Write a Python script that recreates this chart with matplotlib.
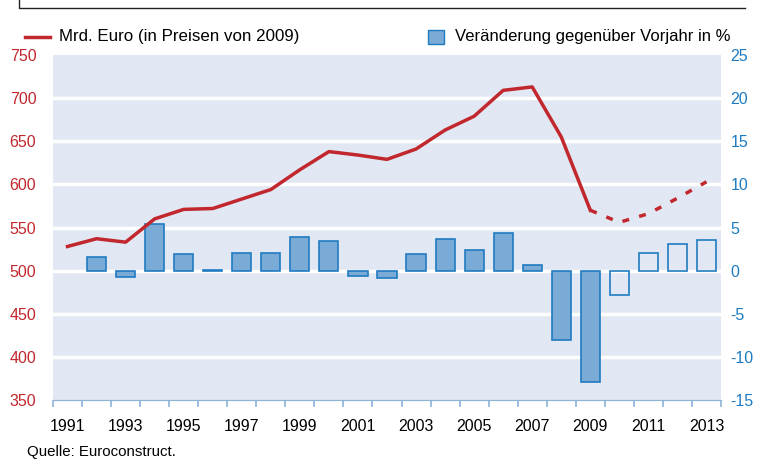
import numpy as np
import matplotlib.pyplot as plt
from matplotlib.lines import Line2D
from matplotlib.patches import Rectangle

plt.rcParams['font.family'] = ['Liberation Sans', 'DejaVu Sans']
plt.rcParams['axes.unicode_minus'] = False

# Bauvolumen in Mrd. Euro (Preise von 2009)
years = [1991, 1992, 1993, 1994, 1995, 1996, 1997, 1998, 1999, 2000, 2001, 2002,
         2003, 2004, 2005, 2006, 2007, 2008, 2009]
volume = [528, 537, 533, 560, 571, 572, 583, 594, 617, 638, 634, 629,
          641, 663, 679, 709, 713, 655, 570]
fc_years = [2009, 2010, 2011, 2012, 2013]
fc_volume = [570, 556, 566, 584, 603]

# Veränderung gegenüber Vorjahr in %
bar_years = [1992, 1993, 1994, 1995, 1996, 1997, 1998, 1999, 2000, 2001, 2002,
             2003, 2004, 2005, 2006, 2007, 2008, 2009]
change = [1.6, -0.7, 5.4, 1.9, 0.1, 2.0, 2.0, 3.9, 3.4, -0.6, -0.8,
          1.9, 3.7, 2.4, 4.4, 0.7, -8.1, -12.9]
fc_bar_years = [2010, 2011, 2012, 2013]
fc_change = [-2.8, 2.0, 3.1, 3.6]

red = '#c1272d'
blue = '#1f7bc1'
fill = '#7aaad6'
bg = '#e1e8f3'

fig = plt.figure(figsize=(7.6, 4.59), dpi=100)
ax = fig.add_axes([53/760, 1-400/459, 668/760, 345/459])
ax2 = ax.twinx()
ax.set_zorder(2)
ax.patch.set_visible(False)
ax2.set_facecolor(bg)
ax2.patch.set_visible(True)

ax2.set_ylim(-15, 25)
ax.set_ylim(350, 750)
ax.set_xlim(1990.5, 2013.5)

for v in range(-10, 25, 5):
    ax2.axhline(v, color='white', lw=2.5, zorder=1)

# bars drawn on left axis: 1 % = 10 units, 0 % = 500
ax.bar(bar_years, np.array(change) * 10, bottom=500, width=0.66,
       color=fill, edgecolor=blue, lw=1.2, zorder=3)
ax.bar(fc_bar_years, np.array(fc_change) * 10, bottom=500, width=0.66,
       color='none', edgecolor=blue, lw=1.2, zorder=3)

ax.plot(years, volume, color=red, lw=2.5, zorder=4)
ax.plot(fc_years, fc_volume, color=red, lw=2.5, ls=(0, (2.0, 3.0)), zorder=4)

for a in (ax, ax2):
    for s in ('top', 'left', 'right'):
        a.spines[s].set_visible(False)
    a.spines['bottom'].set_color('#8fb4da')

ax.set_yticks(range(350, 751, 50))
ax.tick_params(axis='y', length=0, labelsize=11.5, labelcolor=red, pad=12)
ax2.set_yticks(range(-15, 26, 5))
ax2.tick_params(axis='y', length=0, labelsize=11.5, labelcolor=blue, pad=7)

ax.set_xticks(range(1991, 2014, 2))
ax.set_xticks(np.arange(1990.5, 2014, 1), minor=True)
ax.tick_params(axis='x', which='major', length=0, labelsize=11.5, pad=14)
ax.tick_params(axis='x', which='minor', length=5, color='#8fb4da', width=1.2)
ax2.tick_params(axis='x', length=0)

# legend
fig.add_artist(Line2D([25/760, 50/760], [1-37/459, 1-37/459], color=red, lw=2.5))
fig.text(59/760, 1-37/459, 'Mrd. Euro (in Preisen von 2009)', fontsize=12.2,
         va='center', ha='left')
fig.add_artist(Rectangle((428/760, 1-44/459), 16/760, 14/459, facecolor=fill,
                         edgecolor=blue, lw=1))
fig.text(455/760, 1-37/459, 'Veränderung gegenüber Vorjahr in %', fontsize=12,
         va='center', ha='left')

# frame line at top
fig.add_artist(Line2D([19/760, 19/760, 745/760], [1.0, 1-8/459, 1-8/459],
                      color='#222222', lw=1))

fig.text(27/760, 1-452/459, 'Quelle: Euroconstruct.', fontsize=10.8, va='center')

fig.savefig('out.png', dpi=100)
